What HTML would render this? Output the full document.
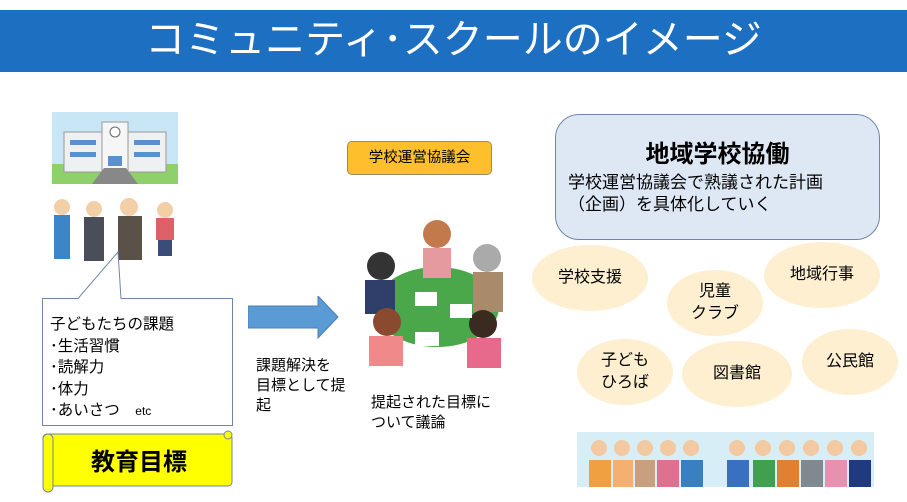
<!DOCTYPE html>
<html><head><meta charset="utf-8"><style>
body{margin:0;width:907px;height:502px;background:#fff;position:relative;overflow:hidden;font-family:"Liberation Sans","Noto Sans CJK JP",sans-serif;color:#000}
.a{position:absolute}
.ell{position:absolute;background:#fdefd0;border-radius:50%;display:flex;align-items:center;justify-content:center;text-align:center;font-size:16px;line-height:22px}
</style></head><body>
<div class="a" style="left:0;top:10px;width:907px;height:62px;background:#1c6fc1"></div>
<div class="a" style="left:0;top:12px;width:907px;text-align:center;color:#fff;font-size:40px;line-height:56px">コミュニティ･スクールのイメージ</div>

<!-- school -->
<svg class="a" style="left:52px;top:112px" width="126" height="72">
<rect width="126" height="72" fill="#c9e6f7"/><rect y="52" width="126" height="20" fill="#8ed06a"/>
<rect x="12" y="20" width="102" height="40" fill="#eef0f2" stroke="#999"/><rect x="50" y="10" width="26" height="50" fill="#f6f6f6" stroke="#999"/>
<circle cx="63" cy="20" r="5" fill="#fff" stroke="#666"/>
<rect x="18" y="28" width="26" height="5" fill="#5b8fd0"/><rect x="82" y="28" width="26" height="5" fill="#5b8fd0"/>
<rect x="18" y="40" width="26" height="5" fill="#5b8fd0"/><rect x="82" y="40" width="26" height="5" fill="#5b8fd0"/>
<rect x="56" y="44" width="14" height="10" fill="#5b8fd0"/><polygon points="40,72 86,72 74,56 52,56" fill="#888"/></svg>
<!-- staff -->
<svg class="a" style="left:52px;top:197px" width="126" height="66">
<g><circle cx="10" cy="10" r="8" fill="#f3cfa8"/><rect x="2" y="18" width="16" height="44" fill="#3a86c8"/></g>
<g><circle cx="42" cy="12" r="8" fill="#f3cfa8"/><rect x="32" y="20" width="20" height="44" fill="#4a4e58"/></g>
<g><circle cx="77" cy="10" r="9" fill="#f3cfa8"/><rect x="66" y="19" width="24" height="44" fill="#5a5148"/></g>
<g><circle cx="113" cy="13" r="8" fill="#f3cfa8"/><rect x="104" y="21" width="18" height="22" fill="#e0606a"/><rect x="106" y="43" width="14" height="16" fill="#3a4c7a"/></g></svg>

<!-- callout -->
<svg class="a" style="left:0;top:240px" width="240" height="190">
<path d="M42.5,58.5 H78 L118,12 L121,58.5 H232.5 V185.5 H42.5 Z" fill="#fff" stroke="#6f86a8"/></svg>
<div class="a" style="left:50px;top:314px;font-size:15.5px;line-height:21.5px">子どもたちの課題<br>･生活習慣<br>･読解力<br>･体力<br>･あいさつ　<span style="font-size:12px">etc</span></div>

<!-- scroll -->
<svg class="a" style="left:38px;top:428px" width="200" height="68">
<rect x="5" y="6" width="189" height="52" rx="4" fill="#ffff00" stroke="#6f86a8"/>
<rect x="5" y="6" width="10" height="58" rx="5" fill="#ffff00" stroke="#6f86a8"/>
<circle cx="190" cy="7" r="4" fill="#ffff00" stroke="#6f86a8"/></svg>
<div class="a" style="left:44px;top:447px;width:190px;text-align:center;font-size:24px;font-weight:bold;line-height:32px">教育目標</div>

<!-- arrow -->
<svg class="a" style="left:248px;top:296px" width="92" height="44"><polygon points="0,10 70,10 70,0 90,21 70,42 70,32 0,32" fill="#5b9bd5" stroke="#4a7fb5"/></svg>
<div class="a" style="left:256px;top:356px;font-size:15px;line-height:20px">課題解決を<br>目標として提<br>起</div>

<!-- council -->
<div class="a" style="left:347px;top:141px;width:145px;height:34px;background:#fdc02c;border:1px solid #9a8a60;border-radius:5px;box-sizing:border-box;text-align:center;font-size:14.5px;line-height:32px">学校運営協議会</div>
<!-- meeting -->
<svg class="a" style="left:355px;top:212px" width="160" height="160">
<ellipse cx="82" cy="95" rx="62" ry="40" fill="#4aa84a"/>
<circle cx="82" cy="22" r="14" fill="#c2794b"/><rect x="68" y="36" width="28" height="30" fill="#e49a9f"/>
<circle cx="132" cy="46" r="14" fill="#aaa"/><rect x="118" y="60" width="30" height="40" fill="#a98b6b"/>
<circle cx="26" cy="54" r="14" fill="#333"/><rect x="10" y="68" width="30" height="34" fill="#2f3f6a"/>
<circle cx="32" cy="110" r="14" fill="#8a4a30"/><rect x="14" y="124" width="34" height="30" fill="#f08a8a"/>
<circle cx="128" cy="112" r="14" fill="#3a2a20"/><rect x="112" y="126" width="34" height="30" fill="#e86a8a"/>
<rect x="60" y="80" width="22" height="14" fill="#fff"/><rect x="95" y="92" width="22" height="14" fill="#fff"/><rect x="60" y="120" width="24" height="14" fill="#fff"/></svg>
<div class="a" style="left:371px;top:393px;font-size:15px;line-height:20px">提起された目標に<br>ついて議論</div>

<!-- right box -->
<div class="a" style="left:555px;top:114px;width:325px;height:126px;background:#dee8f5;border:1px solid #6f86a8;border-radius:24px;box-sizing:border-box"></div>
<div class="a" style="left:555px;top:140px;width:325px;text-align:center;font-size:24px;font-weight:bold;line-height:30px">地域学校協働</div>
<div class="a" style="left:568px;top:172px;font-size:17px;line-height:22px">学校運営協議会で熟議された計画<br>（企画）を具体化していく</div>

<div class="ell" style="left:532px;top:245px;width:116px;height:66px">学校支援</div>
<div class="ell" style="left:667px;top:270px;width:96px;height:66px">児童<br>クラブ</div>
<div class="ell" style="left:764px;top:242px;width:116px;height:66px">地域行事</div>
<div class="ell" style="left:577px;top:339px;width:96px;height:66px">子ども<br>ひろば</div>
<div class="ell" style="left:682px;top:341px;width:110px;height:66px">図書館</div>
<div class="ell" style="left:802px;top:329px;width:96px;height:66px">公民館</div>

<!-- people banner -->
<svg class="a" style="left:577px;top:432px" width="297" height="55">
<rect width="297" height="55" fill="#d8eef6"/>
<g fill="#f2c9a0"><circle cx="22" cy="16" r="8"/><circle cx="45" cy="16" r="8"/><circle cx="68" cy="16" r="8"/><circle cx="91" cy="16" r="8"/><circle cx="114" cy="16" r="8"/><circle cx="160" cy="16" r="8"/><circle cx="186" cy="16" r="8"/><circle cx="210" cy="16" r="8"/><circle cx="234" cy="16" r="8"/><circle cx="258" cy="16" r="8"/><circle cx="282" cy="16" r="8"/></g>
<rect x="12" y="28" width="22" height="27" fill="#f0a040"/><rect x="36" y="28" width="20" height="27" fill="#f5b070"/><rect x="58" y="28" width="20" height="27" fill="#c8a080"/><rect x="80" y="28" width="22" height="27" fill="#e07090"/><rect x="104" y="28" width="22" height="27" fill="#3a80c0"/><rect x="150" y="28" width="22" height="27" fill="#3a70c0"/><rect x="176" y="28" width="22" height="27" fill="#40a050"/><rect x="200" y="28" width="22" height="27" fill="#e08030"/><rect x="224" y="28" width="22" height="27" fill="#808890"/><rect x="248" y="28" width="22" height="27" fill="#e890b0"/><rect x="272" y="28" width="22" height="27" fill="#203a80"/></svg>
</body></html>
